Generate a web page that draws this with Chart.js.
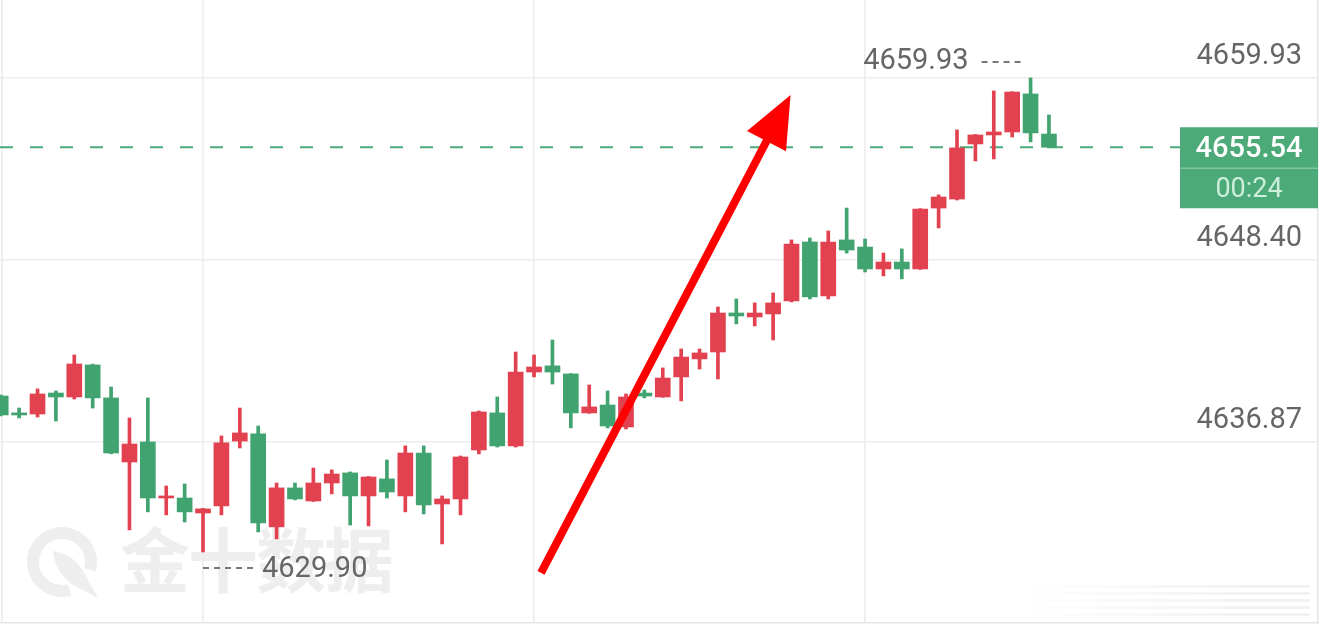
<!DOCTYPE html>
<html>
<head>
<meta charset="utf-8">
<script src="https://cdn.jsdelivr.net/npm/chart.js@4.4.1/dist/chart.umd.min.js"></script>
<style>
  html, body { margin: 0; padding: 0; background: #fff; }
  #wrap { position: relative; width: 1320px; height: 639px; overflow: hidden; }
  #wm { position: absolute; left: 0; top: 0; width: 1320px; height: 639px; }
  #wm svg { position: absolute; left: 26px; top: 525px; }
  #wm span { position: absolute; left: 120px; top: 522px; font: 700 70px/70px "Noto Sans CJK SC", sans-serif; letter-spacing: -2px; color: #eeeeee; white-space: nowrap; }
  #smear { position: absolute; left: 1020px; top: 585px; width: 290px; height: 35px;
    background: repeating-linear-gradient(to bottom, rgba(0,0,0,0.05) 0 3px, rgba(0,0,0,0) 3px 7px);
    -webkit-mask-image: linear-gradient(to right, transparent, #000 80%); mask-image: linear-gradient(to right, transparent, #000 80%); }
  #edge { position: absolute; left: 1px; top: 0; width: 2px; height: 623px; background: #efefef; }
  canvas { position: absolute; left: 0; top: 0; }
</style>
</head>
<body>
<div id="wrap">
  <div id="wm">
    <svg width="80" height="80" viewBox="0 0 80 80">
      <circle cx="36" cy="37" r="29" fill="none" stroke="#eeeeee" stroke-width="12" stroke-dasharray="152 30" transform="rotate(75 36 37)"/>
      <path d="M27 26 Q47 29 57 46 L72 73 L47 60 Q29 47 27 26 Z" fill="#eeeeee"/>
    </svg>
    <span>金十数据</span>
  </div>
  <div id="smear"></div>
  <div id="edge"></div>
  <canvas id="myChart" width="1320" height="639"></canvas>
</div>

<script>
  // one-minute candles, slot 0 is the session low
  var slots = [-11, -10, -9, -8, -7, -6, -5, -4, -3, -2, -1, 0, 1, 2, 3, 4, 5, 6, 7, 8,
    9, 10, 11, 12, 13, 14, 15, 16, 17, 18, 19, 20, 21, 22, 23, 24, 25, 26, 27, 28,
    29, 30, 31, 32, 33, 34, 35, 36, 37, 38, 39, 40, 41, 42, 43, 44, 45, 46];

  var opens = [4639.78, 4638.71, 4638.64, 4639.97, 4639.72, 4641.75, 4639.66, 4635.60, 4636.87, 4633.32,
    4633.32, 4632.37, 4632.82, 4636.93, 4637.38, 4631.49, 4633.96, 4633.13, 4634.27, 4634.91,
    4633.45, 4634.53, 4633.45, 4636.17, 4632.94, 4633.26, 4636.36, 4638.71, 4636.62, 4641.30,
    4641.69, 4641.18, 4638.71, 4639.21, 4637.82, 4639.97, 4639.72, 4640.99, 4642.13, 4642.57,
    4645.04, 4644.79, 4644.98, 4645.80, 4649.54, 4646.12, 4649.67, 4649.22, 4647.83, 4648.27,
    4647.83, 4651.69, 4652.26, 4655.75, 4656.32, 4656.51, 4658.92, 4656.38];

  var highs = [4639.85, 4639.02, 4640.23, 4640.10, 4642.38, 4641.80, 4640.35, 4638.39, 4639.66, 4634.08,
    4634.21, 4632.66, 4637.25, 4639.02, 4637.88, 4634.27, 4634.27, 4635.22, 4635.10, 4634.97,
    4634.68, 4635.73, 4636.62, 4636.62, 4633.45, 4635.98, 4638.83, 4639.72, 4642.57, 4642.38,
    4643.33, 4641.20, 4640.48, 4640.10, 4639.91, 4640.16, 4641.56, 4642.76, 4642.76, 4645.42,
    4645.93, 4645.68, 4646.31, 4649.67, 4649.79, 4650.24, 4651.69, 4649.73, 4648.84, 4649.10,
    4651.65, 4652.52, 4656.64, 4656.35, 4659.11, 4659.06, 4659.93, 4657.59];

  var lows = [4638.52, 4638.39, 4638.45, 4638.20, 4639.59, 4639.02, 4636.12, 4631.30, 4632.44, 4632.25,
    4631.80, 4629.90, 4632.25, 4636.49, 4631.17, 4630.73, 4633.20, 4633.10, 4633.58, 4631.61,
    4631.55, 4633.32, 4632.44, 4632.31, 4630.41, 4632.25, 4636.11, 4636.55, 4636.55, 4640.99,
    4640.54, 4637.76, 4638.68, 4637.76, 4637.69, 4639.66, 4639.70, 4639.47, 4641.49, 4640.86,
    4644.35, 4644.22, 4643.33, 4645.74, 4645.93, 4645.93, 4648.84, 4647.64, 4647.39, 4647.20,
    4647.80, 4650.43, 4652.20, 4654.67, 4654.80, 4656.19, 4655.88, 4655.50];

  var closes = [4638.58, 4638.58, 4639.91, 4639.72, 4641.81, 4639.66, 4636.17, 4636.74, 4633.32, 4633.45,
    4632.44, 4632.63, 4636.81, 4637.44, 4631.74, 4633.96, 4633.26, 4634.27, 4634.84, 4633.45,
    4634.65, 4633.70, 4636.17, 4632.88, 4633.26, 4635.92, 4638.77, 4636.62, 4641.30, 4641.62,
    4641.30, 4638.71, 4639.09, 4637.88, 4639.72, 4639.78, 4640.92, 4642.25, 4642.51, 4645.04,
    4644.85, 4645.04, 4645.68, 4649.41, 4646.06, 4649.54, 4649.03, 4647.83, 4648.27, 4647.83,
    4651.63, 4652.39, 4655.50, 4656.32, 4656.51, 4659.04, 4656.45, 4655.54];

  var priceTicks = [4636.87, 4648.40, 4659.93];
  var timeGrid = [0, 18, 36];
  var lastPrice = 4655.54;
  var countdown = '00:24';
  // hand drawn arrow: [slot, price] at tail and tip
  var arrowTail = [18.38, 4628.57];
  var arrowTip = [31.95, 4658.85];

  var RED = '#e2424f';
  var GREEN = '#41a36f';
  var BOX = '#4caa79';

  var colors = slots.map(function (s, i) { return closes[i] >= opens[i] ? RED : GREEN; });
  var bodies = slots.map(function (s, i) { return { x: s, y: [opens[i], closes[i]] }; });
  var wicks = slots.map(function (s, i) { return { x: s, y: [lows[i], highs[i]] }; });

  function dashed(ctx, x1, x2, y) {
    ctx.save();
    ctx.strokeStyle = '#777';
    ctx.lineWidth = 2;
    ctx.setLineDash([6, 5]);
    ctx.beginPath();
    ctx.moveTo(x1, y);
    ctx.lineTo(x2, y);
    ctx.stroke();
    ctx.restore();
  }

  var markers = {
    id: 'markers',
    beforeDatasetsDraw: function (chart) {
      var ctx = chart.ctx, area = chart.chartArea;
      var y = chart.scales.y.getPixelForValue(lastPrice);
      ctx.save();
      ctx.strokeStyle = BOX;
      ctx.lineWidth = 2;
      ctx.setLineDash([13, 17]);
      ctx.beginPath();
      ctx.moveTo(area.left, y);
      ctx.lineTo(area.right - 138, y);
      ctx.stroke();
      ctx.restore();
    },
    afterDatasetsDraw: function (chart) {
      var ctx = chart.ctx, area = chart.chartArea;
      var xs = chart.scales.x, ys = chart.scales.y;

      // session high / low
      var hi = highs.indexOf(Math.max.apply(null, highs));
      var lo = lows.indexOf(Math.min.apply(null, lows));
      var hx = xs.getPixelForValue(slots[hi]), hy = ys.getPixelForValue(highs[hi]);
      var lx = xs.getPixelForValue(slots[lo]), ly = ys.getPixelForValue(lows[lo]);
      ctx.save();
      ctx.font = '29px Roboto';
      ctx.fillStyle = '#666666';
      ctx.textBaseline = 'middle';
      ctx.textAlign = 'right';
      ctx.fillText(highs[hi].toFixed(2), hx - 62, hy - 16);
      ctx.textAlign = 'left';
      ctx.fillText(lows[lo].toFixed(2), lx + 59, ly + 18);
      ctx.restore();
      dashed(ctx, hx - 49, hx - 7, hy - 16);
      dashed(ctx, lx, lx + 55, ly + 16);

      // red arrow
      var x1 = xs.getPixelForValue(arrowTail[0]), y1 = ys.getPixelForValue(arrowTail[1]);
      var x2 = xs.getPixelForValue(arrowTip[0]), y2 = ys.getPixelForValue(arrowTip[1]);
      var len = Math.hypot(x2 - x1, y2 - y1);
      var dx = (x2 - x1) / len, dy = (y2 - y1) / len;
      var bx = x2 - dx * 52, by = y2 - dy * 52;
      ctx.save();
      ctx.strokeStyle = '#ff0000';
      ctx.fillStyle = '#ff0000';
      ctx.lineWidth = 8;
      ctx.beginPath();
      ctx.moveTo(x1, y1);
      ctx.lineTo(x2 - dx * 40, y2 - dy * 40);
      ctx.stroke();
      ctx.beginPath();
      ctx.moveTo(x2, y2);
      ctx.lineTo(bx - dy * 22, by + dx * 22);
      ctx.lineTo(bx + dy * 22, by - dx * 22);
      ctx.closePath();
      ctx.fill();
      ctx.restore();

      // last price box
      var py = ys.getPixelForValue(lastPrice);
      var left = area.right - 138;
      var mid = left + 69;
      ctx.save();
      ctx.fillStyle = BOX;
      ctx.fillRect(left, py - 20, 138, 81);
      ctx.strokeStyle = 'rgba(255,255,255,0.3)';
      ctx.lineWidth = 1.5;
      ctx.beginPath();
      ctx.moveTo(left, py + 21);
      ctx.lineTo(area.right, py + 21);
      ctx.stroke();
      ctx.textAlign = 'center';
      ctx.textBaseline = 'middle';
      ctx.fillStyle = '#ffffff';
      ctx.font = '500 29px Roboto';
      ctx.fillText(lastPrice.toFixed(2), mid, py + 2);
      ctx.fillStyle = '#cdeedb';
      ctx.font = '27px Roboto';
      ctx.fillText(countdown, mid, py + 43);
      ctx.restore();
    }
  };

  Chart.defaults.font.family = 'Roboto';

  var ctx = document.getElementById('myChart').getContext('2d');
  var chart = new Chart(ctx, {
    type: 'bar',
    data: {
      datasets: [{
        label: 'body',
        data: bodies,
        backgroundColor: colors,
        barThickness: 15,
        grouped: false,
        borderWidth: 0,
        borderSkipped: false
      }, {
        label: 'wick',
        data: wicks,
        backgroundColor: colors,
        barThickness: 3,
        grouped: false,
        borderWidth: 0,
        borderSkipped: false
      }]
    },
    options: {
      responsive: false,
      animation: false,
      events: [],
      layout: { padding: { left: 0, right: 2, top: 0, bottom: 16 } },
      plugins: { legend: { display: false }, tooltip: { enabled: false } },
      scales: {
        x: {
          type: 'linear',
          min: -11.04,
          max: 60.63,
          offset: false,
          afterBuildTicks: function (s) { s.ticks = timeGrid.map(function (v) { return { value: v }; }); },
          ticks: { display: false },
          grid: { color: '#ececec', lineWidth: 1.5, drawTicks: false, offset: false },
          border: { display: true, color: '#e6e6e6', width: 1.5 }
        },
        y: {
          position: 'right',
          min: 4625.40,
          max: 4664.87,
          afterBuildTicks: function (s) { s.ticks = priceTicks.map(function (v) { return { value: v }; }); },
          afterFit: function (s) { s.width = 0; s.paddingTop = 0; s.paddingBottom = 0; },
          ticks: {
            mirror: true,
            padding: -16,
            labelOffset: -21,
            color: '#666666',
            font: { size: 29 },
            callback: function (v) { return v.toFixed(2); }
          },
          grid: { color: '#ececec', lineWidth: 1.5, drawTicks: false },
          border: { display: true, color: '#e6e6e6', width: 1.5 }
        }
      }
    },
    plugins: [markers]
  });
</script>
</body>
</html>
